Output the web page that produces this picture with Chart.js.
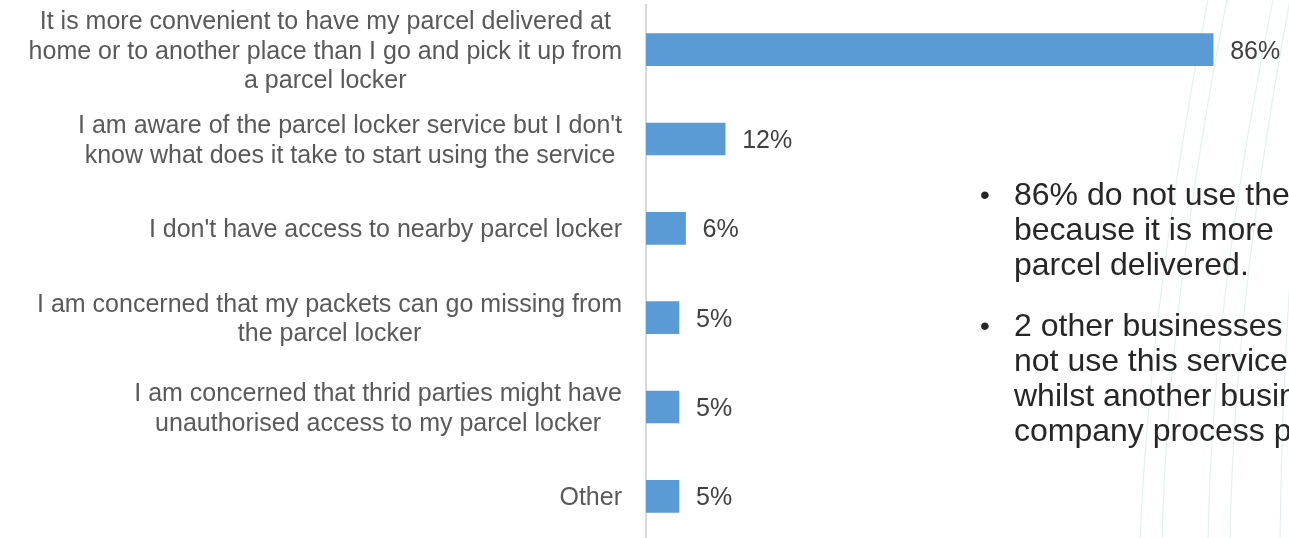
<!DOCTYPE html>
<html>
<head>
<meta charset="utf-8">
<script src="https://cdn.jsdelivr.net/npm/chart.js@4/dist/chart.umd.min.js"></script>
<style>
  html, body { margin: 0; padding: 0; background: #ffffff; overflow: hidden; }
  #wrap { position: relative; width: 1289px; height: 538px; overflow: hidden; }
  #chart { position: absolute; left: 0; top: 0; }
  .notes { position: absolute; left: 980px; top: 0; width: 460px; margin: 0; padding: 0;
           list-style: none; font-family: "Liberation Sans", Arial, sans-serif;
           color: #262626; font-size: 32px; line-height: 35px; white-space: nowrap; }
  .notes li { position: absolute; left: 0; padding-left: 34px; }
  .notes li::before { content: "\2022"; position: absolute; left: 0; top: 0; font-size: 28px; }
</style>
</head>
<body>
<div id="wrap">
  <canvas id="chart" width="1289" height="542"></canvas>
  <ul class="notes">
    <li style="top:177px">86% do not use the service<br>because it is more<br>parcel delivered.</li>
    <li style="top:308px">2 other businesses do<br>not use this service,<br>whilst another business's<br>company process parcels.</li>
  </ul>
</div>
<script>
// Reasons for not using a parcel locker (share of respondents, %)
const categories = [
  ["It is more convenient to have my parcel delivered at", "home or to another place than I go and pick it up from", "a parcel locker"],
  ["I am aware of the parcel locker service but I don't", "know what does it take to start using the service"],
  ["I don't have access to nearby parcel locker"],
  ["I am concerned that my packets can go missing from", "the parcel locker"],
  ["I am concerned that thrid parties might have", "unauthorised access to my parcel locker"],
  ["Other"]
];
const shares = [86, 12, 6, 5, 5, 5];
const valueLabels = ["86%", "12%", "6%", "5%", "5%", "5%"];

const FONT = '"Liberation Sans", Arial, sans-serif';

// faint decorative arcs in the background
const backdrop = {
  id: 'backdrop',
  beforeDraw(chart) {
    const ctx = chart.ctx;
    ctx.save();
    ctx.strokeStyle = 'rgba(205, 234, 226, 0.6)';
    ctx.lineWidth = 1.2;
    const arcs = [
      [[1208, 0], [1150, 300], [1140, 542]],
      [[1227, 0], [1168, 300], [1162, 542]],
      [[1273, 0], [1212, 300], [1208, 542]],
      [[1290, 0], [1234, 300], [1230, 542]],
      [[1300, 150], [1282, 350], [1280, 542]]
    ];
    arcs.forEach(([a, c, b]) => {
      ctx.beginPath();
      ctx.moveTo(a[0], a[1]);
      ctx.quadraticCurveTo(c[0], c[1], b[0], b[1]);
      ctx.stroke();
    });
    ctx.restore();
  }
};

// category labels (each block centred on its own widest line) and value labels
const labelsPlugin = {
  id: 'labelsPlugin',
  afterDatasetsDraw(chart) {
    const ctx = chart.ctx;
    const yScale = chart.scales.y;
    const meta = chart.getDatasetMeta(0);
    const right = 622;
    const lineH = 29.5;
    ctx.save();
    ctx.textBaseline = 'middle';
    ctx.font = '25px ' + FONT;
    ctx.fillStyle = '#595959';
    ctx.textAlign = 'center';
    categories.forEach((lines, i) => {
      const yc = yScale.getPixelForValue(i) + 2;
      const widest = Math.max(...lines.map(l => ctx.measureText(l).width));
      const cx = right - widest / 2;
      lines.forEach((line, j) => {
        const y = yc + (j - (lines.length - 1) / 2) * lineH;
        ctx.fillText(line, cx, y);
      });
    });
    ctx.font = '25px ' + FONT;
    ctx.fillStyle = '#404040';
    ctx.textAlign = 'left';
    meta.data.forEach((bar, i) => {
      ctx.fillText(valueLabels[i], bar.x + 17, bar.y + 2);
    });
    ctx.restore();
  }
};

new Chart(document.getElementById('chart'), {
  type: 'bar',
  data: {
    labels: categories,
    datasets: [{
      data: shares,
      backgroundColor: '#5B9BD5',
      borderWidth: 0,
      barThickness: 32
    }]
  },
  options: {
    indexAxis: 'y',
    responsive: false,
    animation: false,
    layout: { padding: { left: 646, top: 5, right: 0, bottom: 1 } },
    plugins: { legend: { display: false }, tooltip: { enabled: false } },
    scales: {
      x: { display: false, min: 0, max: 97.5 },
      y: {
        display: true,
        ticks: { display: false },
        grid: { display: false, drawTicks: false },
        border: { display: true, color: '#d9d9d9', width: 2 }
      }
    }
  },
  plugins: [backdrop, labelsPlugin]
});
</script>
</body>
</html>
